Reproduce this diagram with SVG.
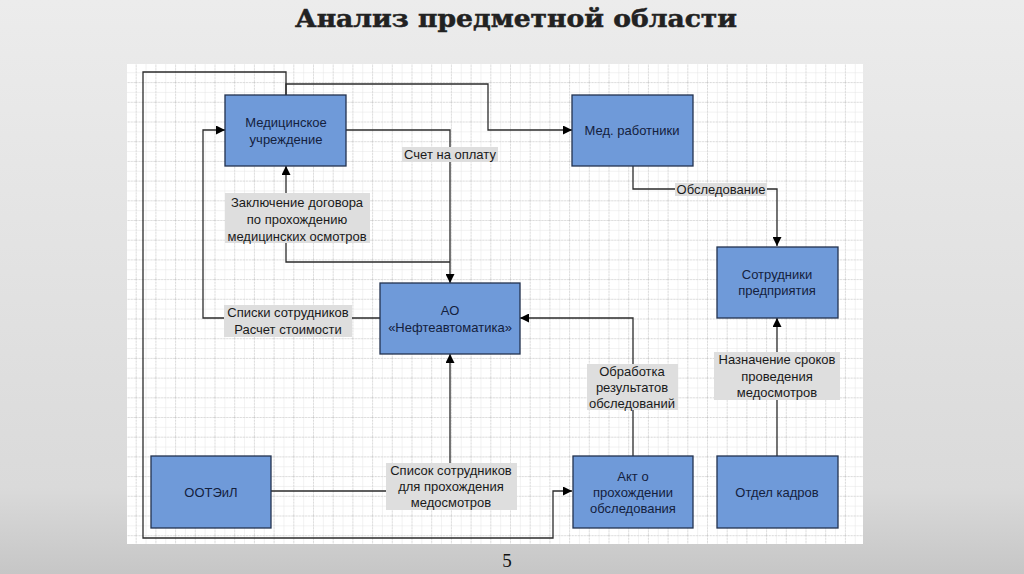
<svg xmlns="http://www.w3.org/2000/svg" width="1024" height="574" viewBox="0 0 1024 574">
<defs>
<linearGradient id="bg" x1="0" y1="0" x2="0" y2="1">
<stop offset="0" stop-color="#ececec"/>
<stop offset="0.85" stop-color="#dadada"/>
<stop offset="1" stop-color="#c6c6c6"/>
</linearGradient>
<pattern id="minor" x="116" y="62.4" width="9.85" height="9.85" patternUnits="userSpaceOnUse">
<path d="M0 0H9.85M0 0V9.85" fill="none" stroke="#e2e2e2" stroke-width="0.9"/>
</pattern>
<pattern id="major" x="116" y="62.4" width="19.7" height="19.7" patternUnits="userSpaceOnUse">
<path d="M0 0H19.7M0 0V19.7" fill="none" stroke="#b8b8b8" stroke-width="0.9" stroke-dasharray="1.5 1.5"/>
</pattern>
<marker id="arr" viewBox="0 0 10 10" refX="10" refY="5" markerWidth="9" markerHeight="9" markerUnits="userSpaceOnUse" orient="auto">
<path d="M0 0L10 5L0 10Z" fill="#000"/>
</marker>
<style>
.box{fill:#6f9ad9;stroke:#22324f;stroke-width:1.3}
.bt{font-family:"Liberation Sans",Arial,sans-serif;font-size:13px;fill:#14213d;text-anchor:middle}
.lb{fill:#dedede}
.lt{font-family:"Liberation Sans",Arial,sans-serif;font-size:13px;fill:#1a1a1a;text-anchor:middle}
.cn{fill:none;stroke:#2b2b2b;stroke-width:1.3}
</style>
</defs>
<rect width="1024" height="574" fill="url(#bg)"/>
<text x="516" y="27" font-family="'DejaVu Serif','Liberation Serif',serif" font-weight="bold" font-size="24" fill="#222" stroke="#222" stroke-width="0.5" text-anchor="middle" textLength="442" lengthAdjust="spacingAndGlyphs">Анализ предметной области</text>
<rect x="127" y="64" width="736" height="480" fill="#fff"/>
<rect x="127" y="64" width="736" height="480" fill="url(#minor)"/>
<rect x="127" y="64" width="736" height="480" fill="url(#major)"/>
<text x="507" y="567" font-family="'Liberation Serif',serif" font-size="19" fill="#111" text-anchor="middle">5</text>

<g id="connectors">
<path class="cn" d="M286 95V72H143V538H553V491H572" marker-end="url(#arr)"/>
<path class="cn" d="M286 95V84H488V130H572" marker-end="url(#arr)"/>
<path class="cn" d="M346 130H450V283" marker-end="url(#arr)"/>
<path class="cn" d="M450 262H286V166" marker-end="url(#arr)"/>
<path class="cn" d="M380 318H203V130H225" marker-end="url(#arr)"/>
<path class="cn" d="M271 491H450V354" marker-end="url(#arr)"/>
<path class="cn" d="M633 456V318H520" marker-end="url(#arr)"/>
<path class="cn" d="M633 166V189H777V246" marker-end="url(#arr)"/>
<path class="cn" d="M777 456V318" marker-end="url(#arr)"/>
</g>

<g id="labels">
<rect class="lb" x="402" y="147" width="96" height="15"/>
<text class="lt" x="450" y="159">Счет на оплату</text>
<rect class="lb" x="225" y="193" width="145" height="50"/>
<text class="lt" x="297" y="207">Заключение договора</text>
<text class="lt" x="297" y="224">по прохождению</text>
<text class="lt" x="297" y="241">медицинских осмотров</text>
<rect class="lb" x="224" y="305" width="128" height="32"/>
<text class="lt" x="288" y="317">Списки сотрудников</text>
<text class="lt" x="288" y="334">Расчет стоимости</text>
<rect class="lb" x="386" y="463" width="131" height="47"/>
<text class="lt" x="451" y="475">Список сотрудников</text>
<text class="lt" x="451" y="491">для прохождения</text>
<text class="lt" x="451" y="507">медосмотров</text>
<rect class="lb" x="587" y="364" width="91" height="46"/>
<text class="lt" x="632" y="376">Обработка</text>
<text class="lt" x="632" y="392">результатов</text>
<text class="lt" x="632" y="408">обследований</text>
<rect class="lb" x="714" y="352" width="126" height="48"/>
<text class="lt" x="777" y="364">Назначение сроков</text>
<text class="lt" x="777" y="381">проведения</text>
<text class="lt" x="777" y="397">медосмотров</text>
<rect class="lb" x="675" y="183" width="92" height="13"/>
<text class="lt" x="721" y="194">Обследование</text>
</g>

<g id="med-uchr">
<rect class="box" x="225" y="95" width="121" height="71"/>
<text class="bt" x="286" y="127">Медицинское</text>
<text class="bt" x="286" y="144">учреждение</text>
</g>
<g id="med-rab">
<rect class="box" x="572" y="95" width="121" height="71"/>
<text class="bt" x="632" y="135">Мед. работники</text>
</g>
<g id="sotrudniki">
<rect class="box" x="717" y="247" width="121" height="71"/>
<text class="bt" x="777" y="279">Сотрудники</text>
<text class="bt" x="777" y="295">предприятия</text>
</g>
<g id="ao">
<rect class="box" x="380" y="283" width="140" height="71"/>
<text class="bt" x="450" y="315">АО</text>
<text class="bt" x="450" y="332">«Нефтеавтоматика»</text>
</g>
<g id="ootel">
<rect class="box" x="151" y="456" width="120" height="72"/>
<text class="bt" x="211" y="497">ООТЭиЛ</text>
</g>
<g id="akt">
<rect class="box" x="573" y="456" width="120" height="72"/>
<text class="bt" x="633" y="481">Акт о</text>
<text class="bt" x="633" y="497">прохождении</text>
<text class="bt" x="633" y="513">обследования</text>
</g>
<g id="otdel">
<rect class="box" x="717" y="456" width="121" height="72"/>
<text class="bt" x="777" y="497">Отдел кадров</text>
</g>
</svg>
